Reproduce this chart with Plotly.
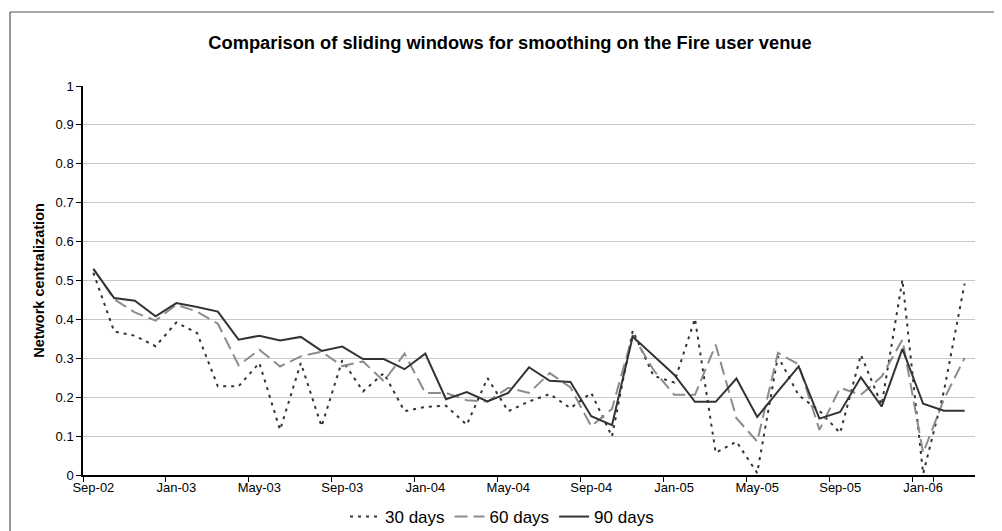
import plotly.graph_objects as go

months = ["Sep-02", "Oct-02", "Nov-02", "Dec-02", "Jan-03", "Feb-03", "Mar-03", "Apr-03",
          "May-03", "Jun-03", "Jul-03", "Aug-03", "Sep-03", "Oct-03", "Nov-03", "Dec-03",
          "Jan-04", "Feb-04", "Mar-04", "Apr-04", "May-04", "Jun-04", "Jul-04", "Aug-04",
          "Sep-04", "Oct-04", "Nov-04", "Dec-04", "Jan-05", "Feb-05", "Mar-05", "Apr-05",
          "May-05", "Jun-05", "Jul-05", "Aug-05", "Sep-05", "Oct-05", "Nov-05", "Dec-05",
          "Jan-06", "Feb-06", "Mar-06"]

days30 = [0.520, 0.369, 0.358, 0.331, 0.392, 0.365, 0.228, 0.228, 0.288, 0.116, 0.288,
          0.125, 0.295, 0.215, 0.262, 0.164, 0.175, 0.178, 0.129, 0.249, 0.164, 0.189,
          0.208, 0.172, 0.211, 0.099, 0.371, 0.255, 0.238, 0.402, 0.057, 0.086, 0.005,
          0.305, 0.205, 0.165, 0.108, 0.309, 0.180, 0.502, 0.003, 0.215, 0.492]

days60 = [0.530, 0.452, 0.418, 0.397, 0.438, 0.420, 0.389, 0.282, 0.322, 0.279, 0.305,
          0.317, 0.280, 0.292, 0.241, 0.312, 0.211, 0.211, 0.192, 0.189, 0.224, 0.211,
          0.262, 0.225, 0.125, 0.170, 0.360, 0.270, 0.206, 0.206, 0.335, 0.146, 0.086,
          0.314, 0.284, 0.116, 0.224, 0.206, 0.253, 0.348, 0.057, 0.194, 0.301]

days90 = [0.530, 0.455, 0.448, 0.408, 0.442, 0.432, 0.420, 0.348, 0.358, 0.346, 0.355,
          0.319, 0.330, 0.298, 0.298, 0.272, 0.312, 0.195, 0.213, 0.189, 0.211, 0.277,
          0.242, 0.239, 0.151, 0.128, 0.356, 0.307, 0.258, 0.188, 0.188, 0.248, 0.149,
          0.215, 0.279, 0.145, 0.162, 0.251, 0.176, 0.324, 0.183, 0.165, 0.165]

tick_labels = months[::4]

title_text = "Comparison of sliding windows for smoothing on the Fire user venue"
y_title = "Network centralization"

fig = go.Figure()
fig.add_trace(go.Scatter(x=months, y=days30, mode="lines", name="30 days",
                         line=dict(color="#333333", width=2, dash="3px,5px")))
fig.add_trace(go.Scatter(x=months, y=days60, mode="lines", name="60 days",
                         line=dict(color="#8c8c8c", width=2, dash="13px,6px")))
fig.add_trace(go.Scatter(x=months, y=days90, mode="lines", name="90 days",
                         line=dict(color="#333333", width=2)))

# The page body adds an 8px margin; size the figure so that it fits the window.
OFF = 8
W, H = 1002 - OFF, 531 - OFF
# plot area in window pixels: x 83..975, y 86..475
L, R, T, B = 83 - OFF, 1002 - 975, 86 - OFF, 531 - 475
pw, ph = W - L - R, H - T - B


def px_x(x):
    return (x - OFF - L) / pw


def px_y(y):
    return (T + ph - (y - OFF)) / ph


fig.update_layout(
    width=W, height=H,
    margin=dict(l=L, r=R, t=T, b=B, autoexpand=False),
    paper_bgcolor="white", plot_bgcolor="white",
    font=dict(family="Liberation Sans, Arial, sans-serif", color="#000000", size=13),
    title=dict(text="<b>" + title_text + "</b>", x=(510 - OFF) / W, xref="container",
               xanchor="center", y=1 - (43 - OFF) / H, yanchor="middle",
               font=dict(size=18.3, color="#000000")),
    showlegend=True,
    legend=dict(orientation="h", x=px_x(502), xanchor="center",
                y=px_y(517), yanchor="middle",
                font=dict(size=17, color="#000000"),
                bgcolor="rgba(0,0,0,0)", tracegroupgap=0),
    xaxis=dict(type="category", range=[-0.5, len(months) - 0.5],
               tickmode="array", tickvals=tick_labels, ticktext=tick_labels,
               tickson="boundaries", ticks="outside", ticklen=5, tickcolor="#000000",
               tickangle=0, automargin=False,
               showline=True, linecolor="#000000", linewidth=1.5,
               showgrid=False, zeroline=False, tickfont=dict(size=13)),
    yaxis=dict(range=[0, 1], tick0=0, dtick=0.1, ticks="outside", ticklen=5,
               tickcolor="#000000", showline=True, linecolor="#000000", linewidth=1.5,
               showgrid=True, gridcolor="#c8c8c8", gridwidth=1, zeroline=False,
               tickfont=dict(size=13), automargin=False,
               title=dict(text="<b>" + y_title + "</b>", font=dict(size=14.5), standoff=7)),
    shapes=[
        dict(type="line", xref="paper", yref="paper",
             x0=px_x(10), x1=px_x(10), y0=px_y(545), y1=px_y(12),
             line=dict(color="#555555", width=1.2), layer="below"),
        dict(type="line", xref="paper", yref="paper",
             x0=px_x(10), x1=px_x(1010), y0=px_y(12), y1=px_y(12),
             line=dict(color="#555555", width=1.2), layer="below"),
    ],
)

fig.write_html("out.html")
